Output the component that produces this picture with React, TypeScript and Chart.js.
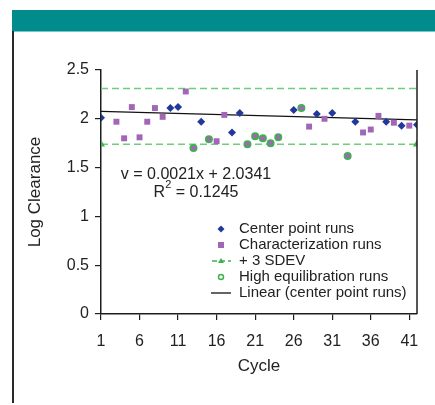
import React, { useEffect, useRef } from "react";
import { Chart, registerables } from "chart.js";

Chart.register(...registerables);

// ---- data ----
const centerX = [1, 10, 11, 14, 18, 19, 26, 29, 31, 34, 38, 40, 42];
const centerY = [2.01, 2.11, 2.12, 1.97, 1.86, 2.06, 2.09, 2.05, 2.06, 1.97, 1.97, 1.93, 1.94];
const charX = [3, 4, 5, 6, 7, 8, 9, 12, 16, 17, 28, 30, 35, 36, 37, 39, 41];
const charY = [1.97, 1.8, 2.12, 1.81, 1.97, 2.11, 2.02, 2.28, 1.77, 2.04, 1.92, 2.0, 1.86, 1.89, 2.03, 1.96, 1.93];
const highX = [13, 15, 20, 21, 22, 23, 24, 27, 33];
const highY = [1.7, 1.79, 1.74, 1.82, 1.8, 1.75, 1.81, 2.11, 1.62];
const sdevX = [1, 42];
const upperSdev = [2.31, 2.31];
const lowerSdev = [1.74, 1.74];
const trendX = [1, 42];
const trendY = [2.077, 1.988];
const xTicks = [1, 6, 11, 16, 21, 26, 31, 36, 41];
const yTicks = [0, 0.5, 1, 1.5, 2, 2.5];
const legendLabels = [
  "Center point runs",
  "Characterization runs",
  "+ 3 SDEV",
  "High equilibration runs",
  "Linear (center point runs)",
];
const equationText = "v = 0.0021x + 2.0341";
const r2Text = " = 0.1245";
const xTitle = "Cycle";
const yTitle = "Log Clearance";

const FONT = "'Liberation Sans', Arial, Helvetica, sans-serif";
const BLUE = "#22389a";
const PURPLE = "#a266b6";
const GREEN_DASH = "#6fce7c";
const GREEN = "#3fb24e";
const AXIS = "#1e1e1e";

const pts = (xs: number[], ys: number[]) => xs.map((x, i) => ({ x, y: ys[i] }));

const overlayPlugin = {
  id: "overlay",
  afterDraw(chart: any) {
    const { ctx, chartArea } = chart;
    const { left, right, top, bottom } = chartArea;
    ctx.save();
    // right border
    ctx.strokeStyle = AXIS;
    ctx.lineWidth = 1.5;
    ctx.beginPath();
    ctx.moveTo(right, top);
    ctx.lineTo(right, bottom);
    ctx.stroke();

    // equation
    const ex = left + 95;
    ctx.fillStyle = "#222";
    ctx.font = `16px ${FONT}`;
    ctx.textBaseline = "middle";
    ctx.textAlign = "center";
    ctx.fillText(equationText, ex, top + 105);
    const rW = ctx.measureText("R").width;
    const restW = ctx.measureText(r2Text).width;
    ctx.font = `11px ${FONT}`;
    const supW = ctx.measureText("2").width;
    const total = rW + supW + restW;
    let sx = ex - total / 2;
    ctx.textAlign = "left";
    ctx.font = `16px ${FONT}`;
    ctx.fillText("R", sx, top + 123);
    sx += rW;
    ctx.font = `11px ${FONT}`;
    ctx.fillText("2", sx, top + 115);
    sx += supW;
    ctx.font = `16px ${FONT}`;
    ctx.fillText(r2Text, sx, top + 123);

    // legend
    const mx = left + 120;
    const tx = left + 138;
    const y0 = top + 159;
    const dy = 16;
    ctx.font = `15px ${FONT}`;
    legendLabels.forEach((lab, i) => {
      const y = y0 + i * dy;
      ctx.fillStyle = "#222";
      ctx.textAlign = "left";
      ctx.fillText(lab, tx, y);
      if (i === 0) {
        ctx.fillStyle = BLUE;
        ctx.beginPath();
        ctx.moveTo(mx, y - 3.5);
        ctx.lineTo(mx + 3.5, y);
        ctx.lineTo(mx, y + 3.5);
        ctx.lineTo(mx - 3.5, y);
        ctx.closePath();
        ctx.fill();
      } else if (i === 1) {
        ctx.fillStyle = PURPLE;
        ctx.fillRect(mx - 3, y - 3, 6, 6);
      } else if (i === 2) {
        ctx.strokeStyle = GREEN;
        ctx.lineWidth = 1.5;
        ctx.setLineDash([5, 3]);
        ctx.beginPath();
        ctx.moveTo(mx - 9, y);
        ctx.lineTo(mx + 10, y);
        ctx.stroke();
        ctx.setLineDash([]);
        ctx.fillStyle = GREEN;
        ctx.beginPath();
        ctx.moveTo(mx, y - 3);
        ctx.lineTo(mx + 3, y + 2);
        ctx.lineTo(mx - 3, y + 2);
        ctx.closePath();
        ctx.fill();
      } else if (i === 3) {
        ctx.strokeStyle = GREEN;
        ctx.lineWidth = 1.5;
        ctx.beginPath();
        ctx.arc(mx, y, 2.5, 0, Math.PI * 2);
        ctx.stroke();
      } else {
        ctx.strokeStyle = "#111";
        ctx.lineWidth = 1.3;
        ctx.beginPath();
        ctx.moveTo(mx - 10, y);
        ctx.lineTo(mx + 10, y);
        ctx.stroke();
      }
    });
    ctx.restore();
  },
};

export default function App() {
  const ref = useRef<HTMLCanvasElement>(null);
  useEffect(() => {
    if (!ref.current) return;
    const chart = new Chart(ref.current, {
      type: "scatter",
      data: {
        datasets: [
          {
            label: legendLabels[0],
            data: pts(centerX, centerY),
            pointStyle: "rectRot",
            pointRadius: 4,
            backgroundColor: BLUE,
            borderColor: BLUE,
            borderWidth: 0,
            order: 0,
          },
          {
            label: legendLabels[3],
            data: pts(highX, highY),
            pointStyle: "circle",
            pointRadius: 3.2,
            backgroundColor: PURPLE,
            borderColor: GREEN,
            borderWidth: 1.6,
            order: 1,
          },
          {
            label: legendLabels[1],
            data: pts(charX, charY),
            pointStyle: "rect",
            pointRadius: 4.2,
            backgroundColor: PURPLE,
            borderColor: PURPLE,
            borderWidth: 0,
            order: 2,
          },
          {
            type: "line",
            label: legendLabels[4],
            data: pts(trendX, trendY),
            showLine: true,
            pointRadius: 0,
            borderColor: "#111",
            borderWidth: 1.3,
            order: 3,
          } as any,
          {
            type: "line",
            label: legendLabels[2],
            data: pts(sdevX, upperSdev),
            showLine: true,
            pointRadius: 0,
            borderColor: GREEN_DASH,
            borderWidth: 1.6,
            borderDash: [7, 4],
            order: 4,
          } as any,
          {
            type: "line",
            label: "- 3 SDEV",
            data: pts(sdevX, lowerSdev),
            showLine: true,
            pointStyle: "triangle",
            pointRadius: 3,
            backgroundColor: GREEN,
            pointBorderColor: GREEN,
            borderColor: GREEN_DASH,
            borderWidth: 1.6,
            borderDash: [7, 4],
            order: 5,
          } as any,
        ],
      },
      options: {
        responsive: false,
        animation: false,
        devicePixelRatio: 1,
        layout: { padding: { top: 70, right: 18, left: 0, bottom: 0 } },
        plugins: {
          legend: { display: false },
          tooltip: { enabled: false },
        },
        scales: {
          x: {
            type: "linear",
            min: 1,
            max: 42,
            afterBuildTicks: (s: any) => {
              s.ticks = xTicks.map((v) => ({ value: v }));
            },
            afterFit: (s: any) => {
              s.height = 91;
            },
            grid: {
              drawOnChartArea: false,
              drawTicks: true,
              tickLength: 6,
              color: AXIS,
              lineWidth: 1.2,
            },
            border: { color: AXIS, width: 1.5 },
            ticks: {
              color: "#222",
              font: { family: FONT, size: 16 },
              padding: 12,
              maxRotation: 0,
              autoSkip: false,
              callback: (v: any) => String(v),
            },
            title: {
              display: true,
              text: xTitle,
              color: "#222",
              font: { family: FONT, size: 17 },
              padding: { top: 0, bottom: 28 },
            },
          },
          y: {
            type: "linear",
            min: 0,
            max: 2.5,
            afterBuildTicks: (s: any) => {
              s.ticks = yTicks.map((v) => ({ value: v }));
            },
            afterFit: (s: any) => {
              s.width = 101;
            },
            grid: {
              drawOnChartArea: false,
              drawTicks: true,
              tickLength: 6,
              color: AXIS,
              lineWidth: 1.2,
            },
            border: { color: AXIS, width: 1.5 },
            ticks: {
              color: "#222",
              font: { family: FONT, size: 16 },
              padding: 6,
              autoSkip: false,
              callback: (v: any) => String(v),
            },
            title: {
              display: true,
              text: yTitle,
              color: "#222",
              font: { family: FONT, size: 17 },
              padding: { top: 25, bottom: 0 },
            },
          },
        },
      },
      plugins: [overlayPlugin],
    } as any);
    return () => chart.destroy();
  }, []);

  return (
    <div style={{ position: "absolute", left: 0, top: 0, width: 435, height: 405, background: "#fff" }}>
      <div style={{ position: "absolute", left: 12, top: 10, width: 423, height: 21, background: "#008c8c" }} />
      <div style={{ position: "absolute", left: 12, top: 31, width: 423, height: 1, background: "#7cc4c4" }} />
      <div style={{ position: "absolute", left: 12, top: 31, width: 1.5, height: 372, background: "#2a2a2a" }} />
      <canvas
        ref={ref}
        width={435}
        height={405}
        style={{ position: "absolute", left: 0, top: 0, width: 435, height: 405 }}
      />
    </div>
  );
}
